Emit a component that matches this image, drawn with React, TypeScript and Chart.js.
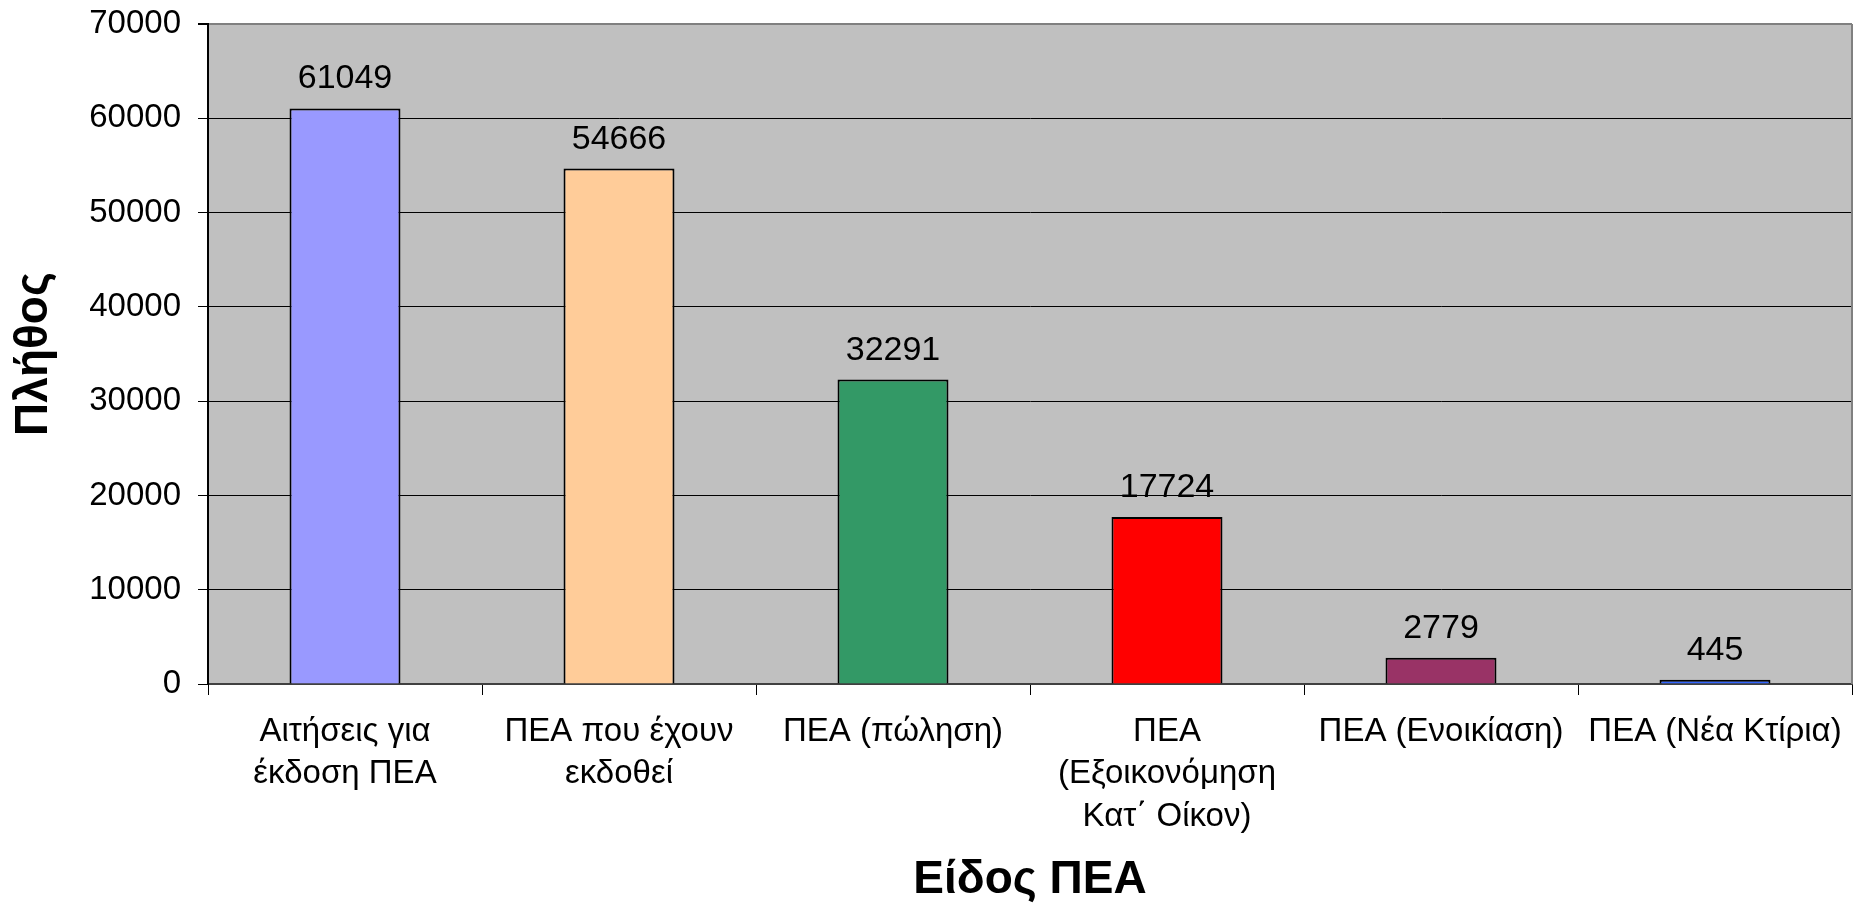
import React, { useEffect, useRef } from "react";
import { Chart, registerables } from "chart.js";

Chart.register(...registerables);

const categories: (string | string[])[] = [
  ["Αιτήσεις για", "έκδοση ΠΕΑ"],
  ["ΠΕΑ που έχουν", "εκδοθεί"],
  "ΠΕΑ (πώληση)",
  ["ΠΕΑ", "(Εξοικονόμηση", "Κατ΄ Οίκον)"],
  "ΠΕΑ (Ενοικίαση)",
  "ΠΕΑ (Νέα Κτίρια)",
];
const values = [61049, 54666, 32291, 17724, 2779, 445];
const barColors = ["#9999FF", "#FFCC99", "#339966", "#FF0000", "#993366", "#3366FF"];
const yMin = 0;
const yMax = 70000;
const yStep = 10000;
const yTitle = "Πλήθος";
const xTitle = "Είδος ΠΕΑ";

const FONT = "'Liberation Sans', Arial, sans-serif";

export default function App() {
  const ref = useRef<HTMLCanvasElement | null>(null);

  useEffect(() => {
    document.body.style.margin = "0";
    document.body.style.overflow = "hidden";
    const canvas = ref.current;
    if (!canvas) return;

    const plotPlugin = {
      id: "plotDeco",
      beforeDraw(chart: any) {
        const { ctx, chartArea } = chart;
        ctx.save();
        ctx.fillStyle = "#C0C0C0";
        ctx.fillRect(chartArea.left, chartArea.top, chartArea.right - chartArea.left, chartArea.bottom - chartArea.top);
        ctx.restore();
      },
      afterDraw(chart: any) {
        const { ctx, chartArea } = chart;
        ctx.save();
        ctx.strokeStyle = "#808080";
        ctx.lineWidth = 2;
        ctx.beginPath();
        ctx.moveTo(chartArea.right, chartArea.top);
        ctx.lineTo(chartArea.right, chartArea.bottom);
        ctx.stroke();
        ctx.restore();
      },
      afterDatasetsDraw(chart: any) {
        const { ctx } = chart;
        const meta = chart.getDatasetMeta(0);
        ctx.save();
        ctx.fillStyle = "#000";
        ctx.font = `34px ${FONT}`;
        ctx.textAlign = "center";
        ctx.textBaseline = "alphabetic";
        meta.data.forEach((bar: any, i: number) => {
          ctx.fillText(String(values[i]), bar.x, bar.y - 20);
        });
        ctx.restore();
      },
    };

    const chart = new Chart(canvas, {
      type: "bar",
      data: {
        labels: categories,
        datasets: [
          {
            data: values,
            backgroundColor: barColors,
            borderColor: "#000",
            borderWidth: 2,
            barPercentage: 0.405,
            categoryPercentage: 1,
          },
        ],
      },
      options: {
        responsive: false,
        animation: false,
        layout: { padding: { top: 24, right: 9, left: 0, bottom: 0 } },
        plugins: {
          legend: { display: false },
          tooltip: { enabled: false },
          title: { display: false },
        },
        scales: {
          x: {
            afterFit: (s: any) => {
              s.height = 222;
              s.paddingTop = 0;
              s.paddingLeft = 0;
              s.paddingRight = 0;
            },
            grid: {
              drawOnChartArea: false,
              drawTicks: true,
              tickLength: 11,
              tickColor: "#000",
              tickWidth: 1,
              offset: true,
            },
            border: { display: true, color: "#404040", width: 2 },
            ticks: {
              color: "#000",
              padding: 15,
              maxRotation: 0,
              autoSkip: false,
              font: { family: FONT, size: 33, lineHeight: 1.3 },
            },
            title: {
              display: true,
              text: xTitle,
              color: "#000",
              font: { family: FONT, size: 46, weight: "bold", lineHeight: 1.0 },
              padding: { top: 0, bottom: 3 },
            },
          },
          y: {
            min: yMin,
            max: yMax,
            afterFit: (s: any) => {
              s.width = 208;
              s.paddingTop = 0;
              s.paddingBottom = 0;
            },
            grid: {
              drawOnChartArea: true,
              drawTicks: true,
              tickLength: 10,
              tickColor: "#000",
              color: (c: any) => (c.tick && c.tick.value === yMax ? "#808080" : "#000"),
              lineWidth: (c: any) => (c.tick && c.tick.value === yMax ? 2 : 1),
            },
            border: { display: true, color: "#000", width: 2 },
            ticks: {
              stepSize: yStep,
              color: "#000",
              padding: 17,
              font: { family: FONT, size: 33 },
              callback: (v: any) => String(v),
            },
            title: {
              display: true,
              text: yTitle,
              color: "#000",
              font: { family: FONT, size: 46, weight: "bold", lineHeight: 1.0 },
              padding: { top: 11, bottom: 0 },
            },
          },
        },
      },
      plugins: [plotPlugin],
    } as any);

    return () => {
      chart.destroy();
    };
  }, []);

  return (
    <div style={{ width: 1861, height: 906 }}>
      <canvas ref={ref} width={1861} height={906} style={{ display: "block", width: 1861, height: 906 }} />
    </div>
  );
}
